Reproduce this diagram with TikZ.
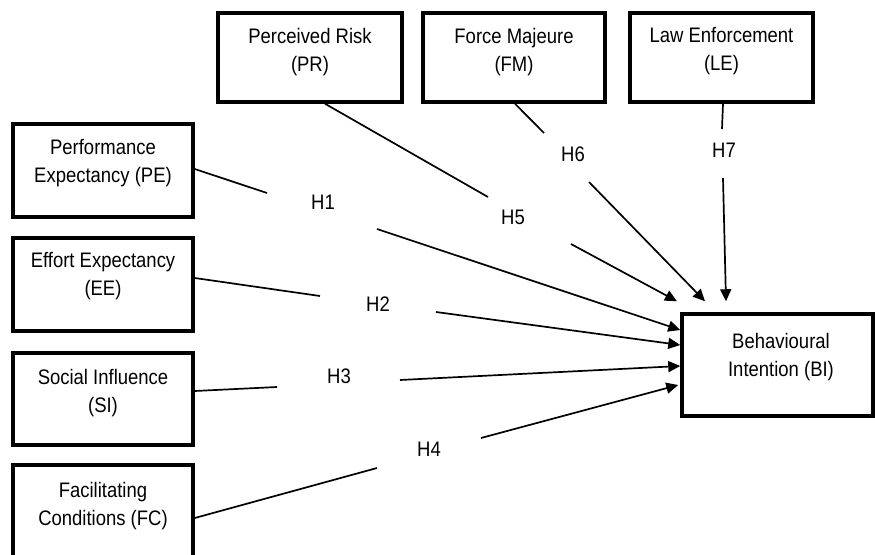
\documentclass[tikz,border=0pt]{standalone}
\usepackage{fontspec}
\setmainfont{Liberation Sans}[FakeStretch=0.88]
\usetikzlibrary{arrows.meta}
\begin{document}
\begin{tikzpicture}[x=1pt,y=-1pt,
  box/.style={draw, line width=3.5pt, inner sep=0pt},
  txt/.style={align=center, font=\fontsize{21}{28}\selectfont, inner sep=0pt},
  hlab/.style={font=\fontsize{21}{24}\selectfont, inner sep=0pt},
  link/.style={line width=1.7pt},
  arr/.style={link, -{Triangle[length=12pt,width=11pt]}}]
\useasboundingbox (0,0) rectangle (875,554);
\clip (0,0) rectangle (875,554);

% boxes
\node[box, minimum width=180pt, minimum height=93pt] (pe) at (103,170.5) {};
\node[box, minimum width=180pt, minimum height=93pt] (ee) at (103,284.5) {};
\node[box, minimum width=180pt, minimum height=92pt] (si) at (103,399) {};
\node[box, minimum width=180pt, minimum height=93pt] (fc) at (103,511.5) {};
\node[box, minimum width=184pt, minimum height=89pt] (pr) at (310,57.5) {};
\node[box, minimum width=182pt, minimum height=89pt] (fm) at (514,57.5) {};
\node[box, minimum width=183pt, minimum height=89pt] (le) at (721.5,57.5) {};
\node[box, minimum width=191pt, minimum height=102pt] (bi) at (777.5,365) {};

% box texts
\node[txt] (pet) at (103,163) {Performance\\Expectancy (PE)};
\node[txt] (eet) at (103,276) {Effort Expectancy\\(EE)};
\node[txt] (sit) at (103,393) {Social Influence\\(SI)};
\node[txt] (fct) at (103,506) {Facilitating\\Conditions (FC)};
\node[txt] (prt) at (310,52) {Perceived Risk\\(PR)};
\node[txt] (fmt) at (514,52) {Force Majeure\\(FM)};
\node[txt] (let) at (721.5,51) {Law Enforcement\\(LE)};
\node[txt] (bit) at (781,357) {Behavioural\\Intention (BI)};

% hypothesis labels
\node[hlab] (h1) at (323,202) {H1};
\node[hlab] (h2) at (378,304) {H2};
\node[hlab] (h3) at (339,376) {H3};
\node[hlab] (h4) at (429,449) {H4};
\node[hlab] (h5) at (513,217) {H5};
\node[hlab] (h6) at (573,154) {H6};
\node[hlab] (h7) at (724,150) {H7};

% gap end points
\coordinate (a1) at (267,193);  \coordinate (b1) at (377,229);
\coordinate (a2) at (320,296);  \coordinate (b2) at (436,312);
\coordinate (a3) at (277,387);  \coordinate (b3) at (400,380);
\coordinate (a4) at (377,468);  \coordinate (b4) at (481,438);
\coordinate (a5) at (488,197);  \coordinate (b5) at (571,244);
\coordinate (a6) at (544,133);  \coordinate (b6) at (589,182);
\coordinate (a7) at (722,129);  \coordinate (b7) at (723,178);

% connectors
\draw[link] ([yshift=1.5pt]pe.east) -- (a1);
\draw[arr] (b1) -- ([yshift=35pt]bi.west);
\draw[link] ([yshift=6.5pt]ee.east) -- (a2);
\draw[arr] (b2) -- ([yshift=20pt]bi.west);
\draw[link] ([yshift=8pt]si.east) -- (a3);
\draw[arr] (b3) -- ([yshift=-1pt]bi.west);
\draw[link] ([yshift=-6.5pt]fc.east) -- (a4);
\draw[arr] (b4) -- ([xshift=-2pt,yshift=-20pt]bi.west);
\draw[link] ([xshift=15pt]pr.south) -- (a5);
\draw[arr] (b5) -- ([xshift=-100.5pt,yshift=11pt]bi.north);
\draw[link] ([xshift=1pt]fm.south) -- (a6);
\draw[arr] (b6) -- ([xshift=-72.5pt,yshift=11pt]bi.north);
\draw[link] ([xshift=1.5pt]le.south) -- (a7);
\draw[arr] (b7) -- ([xshift=-51.5pt,yshift=11pt]bi.north);
\end{tikzpicture}
\end{document}
